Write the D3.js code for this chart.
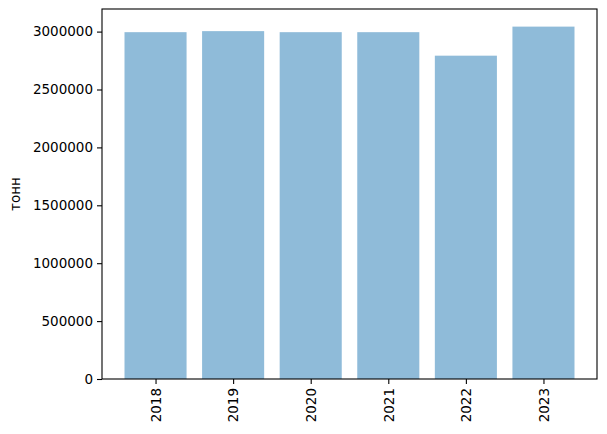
<!DOCTYPE html>
<html>
<head>
<meta charset="utf-8">
<script src="https://cdn.jsdelivr.net/npm/d3@7"></script>
<style>
  body { margin: 0; background: #fff; }
  text { font-family: "DejaVu Sans", sans-serif; }
</style>
</head>
<body>
<div id="chart"></div>
<script>
// values
var years = ["2018", "2019", "2020", "2021", "2022", "2023"];
var tonnes = [2995000, 3004000, 2995000, 2995000, 2792000, 3043000];
var yTicks = [0, 500000, 1000000, 1500000, 2000000, 2500000, 3000000];

var W = 607, H = 434;
var margin = {top: 9, right: 10, bottom: 55, left: 102};
var width = W - margin.left - margin.right;
var height = H - margin.top - margin.bottom;

var svg = d3.select("#chart").append("svg")
    .attr("width", W).attr("height", H)
  .append("g")
    .attr("transform", "translate(" + margin.left + "," + margin.top + ")");

// matplotlib-like linear x: bars at 0..5, width .8, 5% margins
var x = d3.scaleLinear().domain([-0.69, 5.69]).range([0, width]);
var y = d3.scaleLinear().domain([0, d3.max(tonnes) * 1.05]).range([height, 0]);

svg.selectAll("rect.bar")
  .data(tonnes)
  .enter().append("rect")
    .attr("class", "bar")
    .attr("x", function(d, i) { return x(i - 0.4); })
    .attr("width", x(0.8) - x(0))
    .attr("y", function(d) { return y(d); })
    .attr("height", function(d) { return height - y(d); })
    .attr("fill", "#1f77b4")
    .attr("fill-opacity", 0.5);

var yAxis = svg.append("g")
    .call(d3.axisLeft(y).tickValues(yTicks).tickFormat(d3.format("d")).tickSize(5).tickPadding(4));
var xAxis = svg.append("g")
    .attr("transform", "translate(0," + height + ")")
    .call(d3.axisBottom(x).tickValues(d3.range(years.length))
      .tickFormat(function(i) { return years[i]; }).tickSize(5).tickPadding(4));

xAxis.selectAll("text")
    .attr("transform", "rotate(-90)")
    .attr("x", -9).attr("y", 0).attr("dy", "0.35em")
    .style("text-anchor", "end");

[xAxis, yAxis].forEach(function(a) {
  a.select(".domain").remove();
  a.selectAll("text").style("font-size", "13.5px").attr("fill", "#000");
  a.selectAll("line").attr("stroke", "#000").attr("stroke-width", 1.1);
});

// frame
svg.append("rect")
    .attr("width", width).attr("height", height)
    .attr("fill", "none").attr("stroke", "#000").attr("stroke-width", 1.1);

svg.append("text")
    .attr("transform", "rotate(-90)")
    .attr("x", -height / 2).attr("y", -margin.left + 20)
    .style("text-anchor", "middle")
    .style("font-size", "13.5px")
    .text("тонн");
</script>
</body>
</html>
